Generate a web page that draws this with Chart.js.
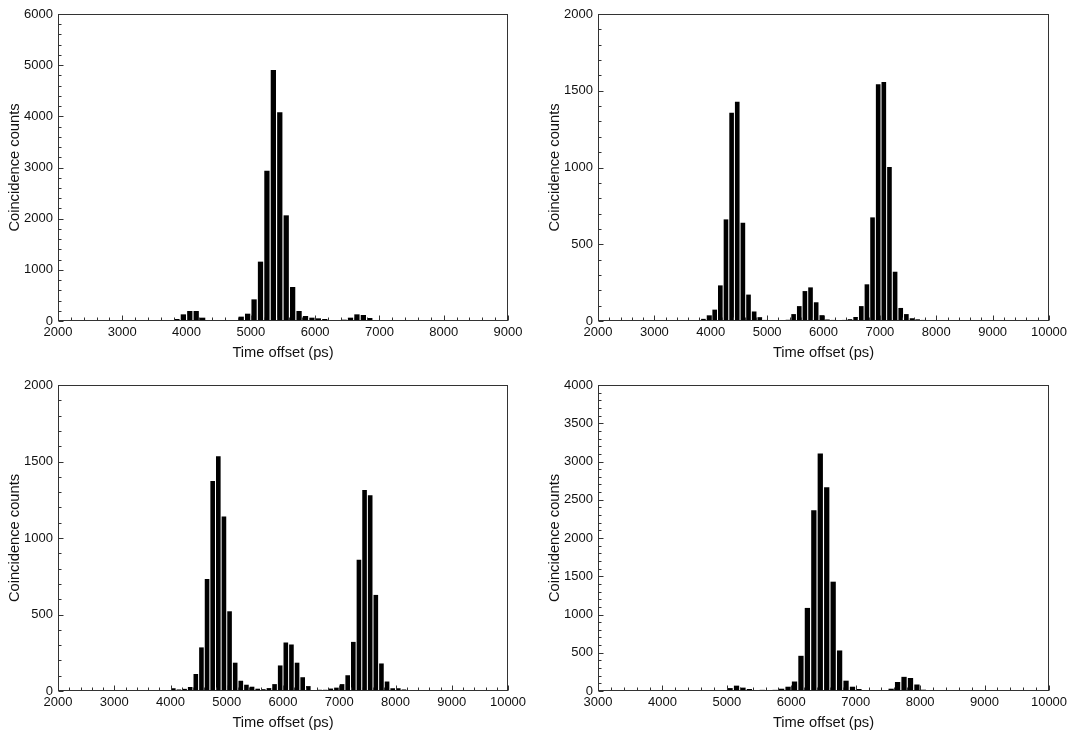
<!DOCTYPE html>
<html>
<head>
<meta charset="utf-8">
<script src="https://cdn.jsdelivr.net/npm/chart.js@4.4.1/dist/chart.umd.min.js"></script>
<style>
  body { margin: 0; background: #fff; width: 1073px; height: 736px; overflow: hidden; position: relative; }
  canvas { position: absolute; }
</style>
</head>
<body>
<canvas id="c1" width="536" height="368" style="left:0;top:0"></canvas>
<canvas id="c2" width="533" height="368" style="left:540px;top:0"></canvas>
<canvas id="c3" width="536" height="366" style="left:0;top:370px"></canvas>
<canvas id="c4" width="533" height="366" style="left:540px;top:370px"></canvas>
<script>
// Panel 1 (top left)
const p1Centers = [3850, 3950, 4050, 4150, 4250, 4350, 4450, 4550, 4650, 4750, 4850, 4950, 5050, 5150, 5250, 5350,
    5450, 5550, 5650, 5750, 5850, 5950, 6050, 6150, 6250, 6350, 6450, 6550, 6650, 6750, 6850];
const p1Counts = [39, 130, 195, 195, 65, 13, 0, 0, 0, 20, 85, 143, 423, 1160, 2938, 4905,
    4078, 2065, 664, 195, 98, 65, 52, 39, 20, 13, 26, 65, 130, 117, 59];
const p1XTicks = [2000, 3000, 4000, 5000, 6000, 7000, 8000, 9000];
const p1YTicks = [0, 1000, 2000, 3000, 4000, 5000, 6000];

// Panel 2 (top right)
const p2Centers = [3870, 3970, 4070, 4170, 4270, 4370, 4470, 4570, 4670, 4770, 4870, 4970, 5070, 5170, 5270, 5370,
    5470, 5570, 5670, 5770, 5870, 5970, 6070, 6170, 6270, 6370, 6470, 6570, 6670, 6770, 6870, 6970,
    7070, 7170, 7270, 7370, 7470, 7570, 7670, 7770];
const p2Counts = [14, 37, 74, 232, 662, 1357, 1429, 640, 172, 62, 25, 7, 0, 4, 4, 8,
    45, 97, 195, 219, 122, 38, 10, 7, 3, 7, 12, 26, 97, 239, 675, 1542,
    1557, 1003, 321, 85, 45, 18, 11, 7];
const p2XTicks = [2000, 3000, 4000, 5000, 6000, 7000, 8000, 9000, 10000];
const p2YTicks = [0, 500, 1000, 1500, 2000];

// Panel 3 (bottom left)
const p3Centers = [3950, 4050, 4150, 4250, 4350, 4450, 4550, 4650, 4750, 4850, 4950, 5050, 5150, 5250, 5350, 5450,
    5550, 5650, 5750, 5850, 5950, 6050, 6150, 6250, 6350, 6450, 6550, 6650, 6750, 6850, 6950, 7050,
    7150, 7250, 7350, 7450, 7550, 7650, 7750, 7850, 7950, 8050, 8150, 8250];
const p3Counts = [6, 18, 10, 14, 26, 111, 285, 732, 1373, 1535, 1140, 521, 185, 67, 41, 28,
    15, 12, 19, 45, 167, 317, 304, 185, 90, 32, 5, 8, 8, 16, 22, 45,
    103, 321, 858, 1314, 1279, 628, 180, 62, 18, 18, 10, 4];
const p3XTicks = [2000, 3000, 4000, 5000, 6000, 7000, 8000, 9000, 10000];
const p3YTicks = [0, 500, 1000, 1500, 2000];

// Panel 4 (bottom right)
const p4Centers = [4950, 5050, 5150, 5250, 5350, 5450, 5550, 5650, 5750, 5850, 5950, 6050, 6150, 6250, 6350, 6450,
    6550, 6650, 6750, 6850, 6950, 7050, 7150, 7250, 7350, 7450, 7550, 7650, 7750, 7850, 7950, 8050];
const p4Counts = [9, 38, 70, 44, 26, 10, 15, 10, 15, 30, 56, 124, 460, 1086, 2362, 3105,
    2662, 1429, 530, 135, 56, 26, 9, 9, 9, 9, 30, 118, 185, 170, 85, 17];
const p4XTicks = [3000, 4000, 5000, 6000, 7000, 8000, 9000, 10000];
const p4YTicks = [0, 500, 1000, 1500, 2000, 2500, 3000, 3500, 4000];

const xTitle = 'Time offset (ps)';
const yTitle = 'Coincidence counts';
const fontFamily = '"Liberation Sans", Arial, sans-serif';

// Box around the plot area and inward tick marks (major + 4 minor)
const frameTicks = {
    id: 'frameTicks',
    afterDraw(chart, args, opts) {
        const {ctx, chartArea: a, scales: {x, y}} = chart;
        const L = Math.round(a.left) + 0.5, R = Math.round(a.right) - 0.5;
        const T = Math.round(a.top) + 0.5, B = Math.round(a.bottom) - 0.5;
        ctx.save();
        ctx.strokeStyle = '#333';
        ctx.lineWidth = 1;
        ctx.beginPath();
        const xMajor = opts.xTicks[1] - opts.xTicks[0];
        for (let v = x.min; v <= x.max + 1e-6; v += xMajor / 5) {
            const px = Math.round(x.getPixelForValue(v)) + 0.5;
            const len = Math.abs((v - x.min) % xMajor) < 1e-6 ? 5 : 3;
            ctx.moveTo(px, B);
            ctx.lineTo(px, B - len);
        }
        const yMajor = opts.yTicks[1] - opts.yTicks[0];
        for (let v = y.min; v <= y.max + 1e-6; v += yMajor / 5) {
            const py = Math.round(y.getPixelForValue(v)) + 0.5;
            const len = Math.abs((v - y.min) % yMajor) < 1e-6 ? 5 : 3;
            ctx.moveTo(L, py);
            ctx.lineTo(L + len, py);
        }
        ctx.stroke();
        ctx.strokeRect(L, T, R - L, B - T);
        ctx.restore();
    }
};

function makeChart(id, centers, counts, xTicks, yTicks, pad) {
    const ctx = document.getElementById(id).getContext('2d');
    return new Chart(ctx, {
        type: 'bar',
        data: {
            labels: centers,
            datasets: [{
                data: centers.map((c, i) => ({x: c, y: counts[i]})),
                backgroundColor: '#000',
                borderWidth: 0,
                barPercentage: 0.82,
                categoryPercentage: 1
            }]
        },
        options: {
            responsive: false,
            animation: false,
            events: [],
            layout: {padding: {top: pad.top, right: pad.right, bottom: 0, left: 0}},
            plugins: {
                legend: {display: false},
                tooltip: {enabled: false},
                frameTicks: {xTicks: xTicks, yTicks: yTicks}
            },
            scales: {
                x: {
                    type: 'linear',
                    offset: false,
                    min: xTicks[0],
                    max: xTicks[xTicks.length - 1],
                    afterBuildTicks: s => { s.ticks = xTicks.map(v => ({value: v})); },
                    afterFit: s => { s.height = pad.xh; },
                    grid: {display: false, drawTicks: false, offset: false},
                    border: {display: false},
                    ticks: {
                        padding: 4,
                        maxRotation: 0,
                        color: '#111',
                        font: {family: fontFamily, size: 13},
                        callback: v => String(v)
                    },
                    title: {
                        display: true,
                        text: xTitle,
                        color: '#111',
                        font: {family: fontFamily, size: 14.7},
                        padding: {top: 0, bottom: pad.xtb}
                    }
                },
                y: {
                    min: yTicks[0],
                    max: yTicks[yTicks.length - 1],
                    afterBuildTicks: s => { s.ticks = yTicks.map(v => ({value: v})); },
                    afterFit: s => { s.width = 58; },
                    grid: {display: false, drawTicks: false},
                    border: {display: false},
                    ticks: {
                        padding: 5,
                        color: '#111',
                        font: {family: fontFamily, size: 13},
                        callback: v => String(v)
                    },
                    title: {
                        display: true,
                        text: yTitle,
                        color: '#111',
                        font: {family: fontFamily, size: 14.7},
                        padding: {top: 6.2, bottom: 0}
                    }
                }
            }
        },
        plugins: [frameTicks]
    });
}

makeChart('c1', p1Centers, p1Counts, p1XTicks, p1YTicks, {top: 14, right: 28, xh: 47, xtb: 6.2});
makeChart('c2', p2Centers, p2Counts, p2XTicks, p2YTicks, {top: 14, right: 24, xh: 47, xtb: 6.2});
makeChart('c3', p3Centers, p3Counts, p3XTicks, p3YTicks, {top: 15, right: 28, xh: 45, xtb: 4.2});
makeChart('c4', p4Centers, p4Counts, p4XTicks, p4YTicks, {top: 15, right: 24, xh: 45, xtb: 4.2});
</script>
</body>
</html>
